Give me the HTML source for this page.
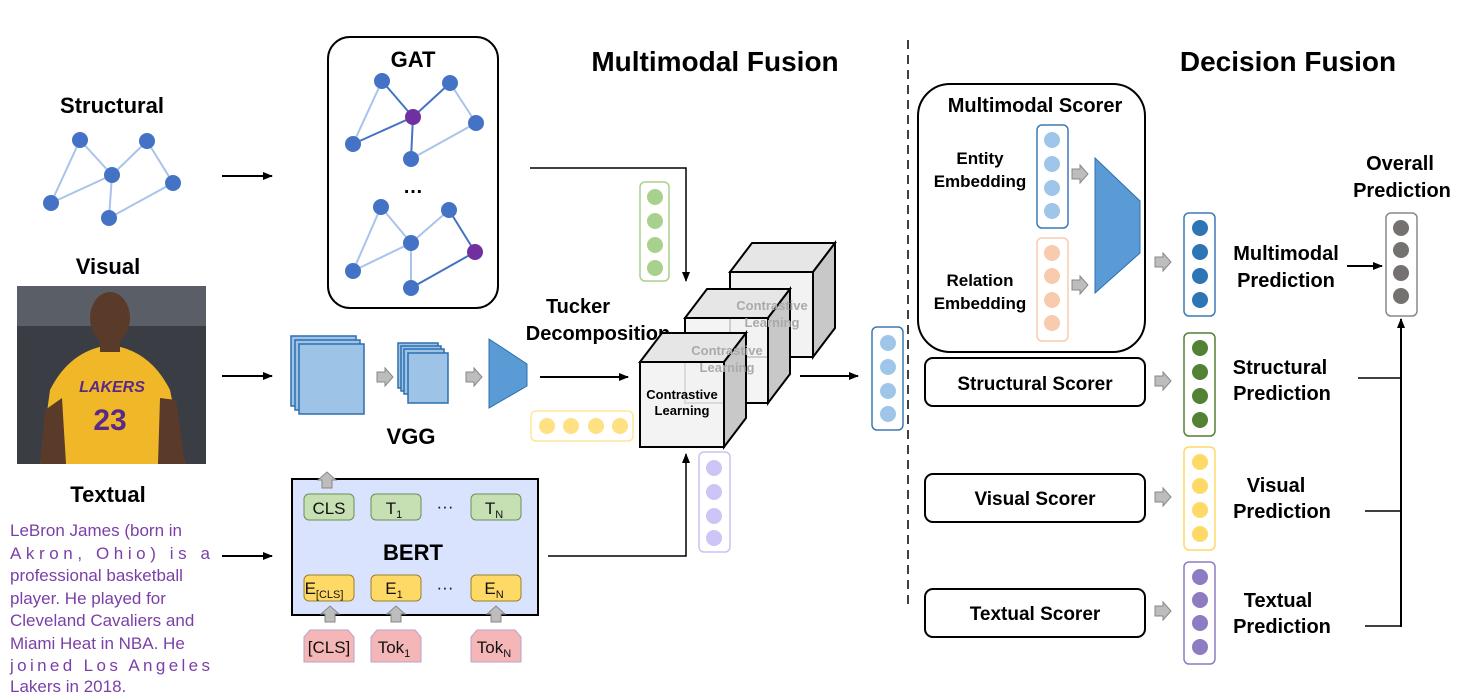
<!DOCTYPE html>
<html><head><meta charset="utf-8"><style>
html,body{margin:0;padding:0;background:#fff;}
svg{display:block;font-family:"Liberation Sans",Arial,sans-serif;}
.b{font-weight:bold;fill:#000;}
</style></head><body>
<svg width="1464" height="698" viewBox="0 0 1464 698" xmlns="http://www.w3.org/2000/svg">
<defs>
<marker id="ah" markerWidth="10" markerHeight="8" refX="9" refY="4" orient="auto" markerUnits="userSpaceOnUse"><path d="M0,0 L10,4 L0,8 z" fill="#000"/></marker>
<polygon id="ga" points="-8,-5 0,-5 0,-9 8,0 0,9 0,5 -8,5" fill="#bdbdbd" stroke="#888" stroke-width="1"/>
<polygon id="gu" points="-5,8 -5,0 -9,0 0,-8 9,0 5,0 5,8" fill="#bdbdbd" stroke="#888" stroke-width="1"/>
</defs>

<!-- Titles -->
<text x="715" y="71" font-size="28" text-anchor="middle" class="b">Multimodal Fusion</text>
<text x="1288" y="71" font-size="28" text-anchor="middle" class="b">Decision Fusion</text>

<!-- Structural -->
<text x="112" y="113" font-size="22" text-anchor="middle" class="b">Structural</text>
<g stroke="#a9c3ea" stroke-width="2">
<line x1="80" y1="140" x2="112" y2="175"/><line x1="80" y1="140" x2="51" y2="203"/>
<line x1="147" y1="141" x2="112" y2="175"/><line x1="147" y1="141" x2="173" y2="183"/>
<line x1="112" y1="175" x2="51" y2="203"/><line x1="112" y1="175" x2="109" y2="218"/>
<line x1="109" y1="218" x2="173" y2="183"/></g>
<g fill="#4472c4"><circle cx="80" cy="140" r="8"/><circle cx="147" cy="141" r="8"/><circle cx="112" cy="175" r="8"/><circle cx="51" cy="203" r="8"/><circle cx="173" cy="183" r="8"/><circle cx="109" cy="218" r="8"/></g>
<line x1="222" y1="176" x2="272" y2="176" stroke="#000" stroke-width="2" marker-end="url(#ah)"/>

<!-- GAT -->
<rect x="328" y="37" width="170" height="271" rx="22" fill="none" stroke="#000" stroke-width="2"/>
<text x="413" y="67" font-size="22" text-anchor="middle" class="b">GAT</text>
<g stroke="#a9c3ea" stroke-width="2">
<line x1="382" y1="81" x2="353" y2="144"/><line x1="450" y1="83" x2="476" y2="123"/><line x1="411" y1="159" x2="476" y2="123"/>
<line x1="381" y1="207" x2="411" y2="243"/><line x1="449" y1="210" x2="411" y2="243"/><line x1="381" y1="207" x2="353" y2="271"/>
<line x1="411" y1="243" x2="353" y2="271"/><line x1="411" y1="243" x2="411" y2="288"/></g>
<g stroke="#4472c4" stroke-width="2">
<line x1="382" y1="81" x2="413" y2="117"/><line x1="450" y1="83" x2="413" y2="117"/><line x1="353" y1="144" x2="413" y2="117"/><line x1="413" y1="117" x2="411" y2="159"/>
<line x1="449" y1="210" x2="475" y2="252"/><line x1="475" y1="252" x2="411" y2="288"/></g>
<g fill="#4472c4"><circle cx="382" cy="81" r="8"/><circle cx="450" cy="83" r="8"/><circle cx="353" cy="144" r="8"/><circle cx="476" cy="123" r="8"/><circle cx="411" cy="159" r="8"/>
<circle cx="381" cy="207" r="8"/><circle cx="449" cy="210" r="8"/><circle cx="411" cy="243" r="8"/><circle cx="353" cy="271" r="8"/><circle cx="411" cy="288" r="8"/></g>
<circle cx="413" cy="117" r="8" fill="#7030a0"/><circle cx="475" cy="252" r="8" fill="#7030a0"/>
<text x="413" y="193" font-size="20" text-anchor="middle" class="b">…</text>
<polyline points="530,168 686,168 686,281" fill="none" stroke="#000" stroke-width="1.5" marker-end="url(#ah)"/>

<!-- Visual -->
<text x="108" y="274" font-size="22" text-anchor="middle" class="b">Visual</text>
<rect x="17" y="286" width="189" height="178" fill="#3b3d44"/>
<rect x="17" y="286" width="189" height="40" fill="#5a5e66"/>
<path d="M40,464 L50,390 Q70,350 110,345 Q150,350 170,390 L185,464 z" fill="#f0b828"/>
<path d="M40,464 L45,410 L62,398 L66,464 z M185,464 L176,400 L160,398 L158,464z" fill="#5a3a28"/>
<ellipse cx="110" cy="318" rx="20" ry="26" fill="#5a3a28"/>
<rect x="100" y="338" width="20" height="14" fill="#5a3a28"/>
<text x="112" y="392" font-size="16" font-weight="bold" fill="#5b2a86" text-anchor="middle" font-style="italic">LAKERS</text>
<text x="110" y="430" font-size="30" font-weight="bold" fill="#5b2a86" text-anchor="middle">23</text>
<line x1="222" y1="376" x2="272" y2="376" stroke="#000" stroke-width="2" marker-end="url(#ah)"/>

<!-- VGG -->
<g stroke="#2e6fae" stroke-width="1.5" fill="#9dc3e6">
<rect x="291" y="336" width="65" height="70"/><rect x="295" y="340" width="65" height="70"/><rect x="299" y="344" width="65" height="70"/>
<rect x="398" y="343" width="40" height="45"/><rect x="401" y="346" width="40" height="45"/><rect x="404" y="349" width="40" height="45"/><rect x="408" y="353" width="40" height="50"/></g>
<use href="#ga" x="385" y="377"/><use href="#ga" x="474" y="377"/>
<polygon points="489,339 527,364 527,386 489,408" fill="#5b9bd5" stroke="#2e6fae" stroke-width="1"/>
<text x="411" y="444" font-size="22" text-anchor="middle" class="b">VGG</text>
<line x1="540" y1="377" x2="628" y2="377" stroke="#000" stroke-width="2" marker-end="url(#ah)"/>
<text x="578" y="313" font-size="20" text-anchor="middle" class="b">Tucker</text>
<text x="598" y="340" font-size="20" text-anchor="middle" class="b">Decomposition</text>

<!-- Cubes -->
<g stroke="#000" stroke-width="2">
<polygon points="730,272 813,272 835,243 752,243" fill="#e6e6e6"/>
<polygon points="813,272 835,243 835,328 813,357" fill="#c8c8c8"/>
<rect x="730" y="272" width="83" height="85" fill="#f2f2f2"/>
<polygon points="685,318 768,318 790,289 707,289" fill="#e6e6e6"/>
<polygon points="768,318 790,289 790,374 768,403" fill="#c8c8c8"/>
<rect x="685" y="318" width="83" height="85" fill="#f2f2f2" fill-opacity="0.85"/>
<polygon points="640,362 724,362 746,333 662,333" fill="#e6e6e6"/>
<polygon points="724,362 746,333 746,418 724,447" fill="#c8c8c8"/>
<rect x="640" y="362" width="84" height="85" fill="#f2f2f2" fill-opacity="0.9"/></g>
<g font-size="13" font-weight="bold" fill="#aaa" text-anchor="middle">
<text x="772" y="310">Contrastive</text><text x="772" y="327">Learning</text>
<text x="727" y="355">Contrastive</text><text x="727" y="372">Learning</text></g>
<g font-size="13" font-weight="bold" fill="#000" text-anchor="middle">
<text x="682" y="399">Contrastive</text><text x="682" y="415">Learning</text></g>
<line x1="800" y1="376" x2="858" y2="376" stroke="#000" stroke-width="2" marker-end="url(#ah)"/>

<!-- Vectors -->
<rect x="640" y="182" width="29" height="99" rx="5" fill="#fff" stroke="#a9d18e" stroke-width="1.5"/>
<g fill="#a9d18e"><circle cx="655" cy="197" r="8"/><circle cx="655" cy="221" r="8"/><circle cx="655" cy="245" r="8"/><circle cx="655" cy="268" r="8"/></g>
<rect x="531" y="411" width="102" height="30" rx="5" fill="#fff" stroke="#ffe699" stroke-width="1.5"/>
<g fill="#ffe082"><circle cx="547" cy="426" r="8"/><circle cx="571" cy="426" r="8"/><circle cx="596" cy="426" r="8"/><circle cx="620" cy="426" r="8"/></g>
<rect x="699" y="452" width="31" height="100" rx="5" fill="#fff" stroke="#c9c2f5" stroke-width="1.5"/>
<g fill="#cdc5f7"><circle cx="714" cy="468" r="8"/><circle cx="714" cy="492" r="8"/><circle cx="714" cy="516" r="8"/><circle cx="714" cy="538" r="8"/></g>
<rect x="872" y="327" width="31" height="103" rx="5" fill="#fff" stroke="#3d78b5" stroke-width="1.5"/>
<g fill="#9fc5e8"><circle cx="888" cy="343" r="8"/><circle cx="888" cy="367" r="8"/><circle cx="888" cy="391" r="8"/><circle cx="888" cy="414" r="8"/></g>

<!-- Textual -->
<text x="108" y="502" font-size="22" text-anchor="middle" class="b">Textual</text>
<g font-size="17" fill="#7b3fa8">
<text x="10" y="536">LeBron James (born in</text>
<text x="10" y="559" textLength="200" lengthAdjust="spacing">Akron, Ohio) is a</text>
<text x="10" y="581">professional basketball</text>
<text x="10" y="604">player. He played for</text>
<text x="10" y="626">Cleveland Cavaliers and</text>
<text x="10" y="649">Miami Heat in NBA. He</text>
<text x="10" y="671" textLength="200" lengthAdjust="spacing">joined Los Angeles</text>
<text x="10" y="692">Lakers in 2018.</text></g>
<line x1="222" y1="556" x2="272" y2="556" stroke="#000" stroke-width="2" marker-end="url(#ah)"/>

<!-- BERT -->
<rect x="292" y="479" width="246" height="136" fill="#dae3fd" stroke="#000" stroke-width="2"/>
<use href="#gu" x="327" y="480"/>
<g fill="#c6e0b4" stroke="#6a8f57" stroke-width="1"><rect x="304" y="494" width="50" height="26" rx="5"/><rect x="371" y="494" width="50" height="26" rx="5"/><rect x="471" y="494" width="50" height="26" rx="5"/></g>
<g fill="#ffd966" stroke="#9a8030" stroke-width="1"><rect x="304" y="575" width="50" height="26" rx="5"/><rect x="371" y="575" width="50" height="26" rx="5"/><rect x="471" y="575" width="50" height="26" rx="5"/></g>
<g font-size="17" fill="#111" text-anchor="middle">
<text x="329" y="514">CLS</text><text x="394" y="514">T<tspan font-size="11" dy="4">1</tspan></text><text x="494" y="514">T<tspan font-size="11" dy="4">N</tspan></text>
<text x="445" y="512">···</text><text x="445" y="593">···</text>
<text x="324" y="594">E<tspan font-size="11" dy="4">[CLS]</tspan></text><text x="394" y="594">E<tspan font-size="11" dy="4">1</tspan></text><text x="494" y="594">E<tspan font-size="11" dy="4">N</tspan></text>
</g>
<text x="413" y="560" font-size="22" text-anchor="middle" class="b">BERT</text>
<use href="#gu" x="330" y="614"/><use href="#gu" x="396" y="614"/><use href="#gu" x="496" y="614"/>
<g fill="#f4b6b6" stroke="#b9a3c9" stroke-width="1">
<polygon points="304,637 310,630 348,630 354,637 354,662 304,662"/>
<polygon points="371,637 377,630 415,630 421,637 421,662 371,662"/>
<polygon points="471,637 477,630 515,630 521,637 521,662 471,662"/></g>
<g font-size="17" fill="#111" text-anchor="middle">
<text x="329" y="653">[CLS]</text><text x="394" y="653">Tok<tspan font-size="11" dy="4">1</tspan></text><text x="494" y="653">Tok<tspan font-size="11" dy="4">N</tspan></text></g>
<polyline points="548,556 686,556 686,454" fill="none" stroke="#000" stroke-width="1.5" marker-end="url(#ah)"/>

<!-- Dashed divider -->
<line x1="908" y1="40" x2="908" y2="605" stroke="#000" stroke-width="1.5" stroke-dasharray="9,6"/>

<!-- Multimodal Scorer -->
<rect x="918" y="84" width="227" height="268" rx="32" fill="none" stroke="#000" stroke-width="2"/>
<text x="1035" y="112" font-size="20" text-anchor="middle" class="b">Multimodal Scorer</text>
<g font-size="17" font-weight="bold" text-anchor="middle" fill="#000">
<text x="980" y="164">Entity</text><text x="980" y="187">Embedding</text>
<text x="980" y="286">Relation</text><text x="980" y="309">Embedding</text></g>
<rect x="1037" y="125" width="31" height="103" rx="5" fill="#fff" stroke="#3d78b5" stroke-width="1.5"/>
<g fill="#9fc5e8"><circle cx="1052" cy="140" r="8"/><circle cx="1052" cy="164" r="8"/><circle cx="1052" cy="188" r="8"/><circle cx="1052" cy="211" r="8"/></g>
<rect x="1037" y="238" width="31" height="103" rx="5" fill="#fff" stroke="#f8cbad" stroke-width="1.5"/>
<g fill="#f8cbad"><circle cx="1052" cy="253" r="8"/><circle cx="1052" cy="276" r="8"/><circle cx="1052" cy="300" r="8"/><circle cx="1052" cy="323" r="8"/></g>
<use href="#ga" x="1080" y="174"/><use href="#ga" x="1080" y="285"/>
<polygon points="1095,158 1140,201 1140,253 1095,293" fill="#5b9bd5" stroke="#2e6fae" stroke-width="1"/>

<!-- Scorers -->
<g fill="#fff" stroke="#000" stroke-width="2">
<rect x="925" y="358" width="220" height="48" rx="8"/><rect x="925" y="474" width="220" height="48" rx="8"/><rect x="925" y="589" width="220" height="48" rx="8"/></g>
<g font-size="19" text-anchor="middle" class="b">
<text x="1035" y="390">Structural Scorer</text><text x="1035" y="505">Visual Scorer</text><text x="1035" y="620">Textual Scorer</text></g>
<use href="#ga" x="1163" y="262"/><use href="#ga" x="1163" y="381"/><use href="#ga" x="1163" y="497"/><use href="#ga" x="1163" y="611"/>

<!-- Prediction vectors -->
<rect x="1184" y="213" width="31" height="103" rx="5" fill="#fff" stroke="#3d78b5" stroke-width="1.5"/>
<g fill="#2e75b6"><circle cx="1200" cy="228" r="8"/><circle cx="1200" cy="252" r="8"/><circle cx="1200" cy="276" r="8"/><circle cx="1200" cy="300" r="8"/></g>
<rect x="1184" y="333" width="31" height="103" rx="5" fill="#fff" stroke="#538135" stroke-width="1.5"/>
<g fill="#538135"><circle cx="1200" cy="348" r="8"/><circle cx="1200" cy="372" r="8"/><circle cx="1200" cy="396" r="8"/><circle cx="1200" cy="420" r="8"/></g>
<rect x="1184" y="447" width="31" height="103" rx="5" fill="#fff" stroke="#ffd966" stroke-width="1.5"/>
<g fill="#ffd966"><circle cx="1200" cy="462" r="8"/><circle cx="1200" cy="486" r="8"/><circle cx="1200" cy="510" r="8"/><circle cx="1200" cy="534" r="8"/></g>
<rect x="1184" y="562" width="31" height="102" rx="5" fill="#fff" stroke="#8e7cc3" stroke-width="1.5"/>
<g fill="#8e7cc3"><circle cx="1200" cy="577" r="8"/><circle cx="1200" cy="600" r="8"/><circle cx="1200" cy="623" r="8"/><circle cx="1200" cy="647" r="8"/></g>

<g font-size="20" text-anchor="middle" class="b">
<text x="1286" y="260">Multimodal</text><text x="1286" y="287">Prediction</text>
<text x="1280" y="374">Structural</text><text x="1282" y="400">Prediction</text>
<text x="1276" y="492">Visual</text><text x="1282" y="518">Prediction</text>
<text x="1278" y="607">Textual</text><text x="1282" y="633">Prediction</text>
<text x="1400" y="170">Overall</text><text x="1402" y="197">Prediction</text></g>
<line x1="1347" y1="266" x2="1382" y2="266" stroke="#000" stroke-width="2" marker-end="url(#ah)"/>
<rect x="1386" y="213" width="31" height="103" rx="5" fill="#fff" stroke="#888" stroke-width="1.5"/>
<g fill="#757171"><circle cx="1401" cy="228" r="8"/><circle cx="1401" cy="250" r="8"/><circle cx="1401" cy="273" r="8"/><circle cx="1401" cy="296" r="8"/></g>
<line x1="1401" y1="627" x2="1401" y2="319" stroke="#000" stroke-width="2" marker-end="url(#ah)"/>
<g stroke="#000" stroke-width="1.5">
<line x1="1358" y1="378" x2="1401" y2="378"/><line x1="1365" y1="511" x2="1401" y2="511"/><line x1="1365" y1="626" x2="1401" y2="626"/></g>
</svg>
</body></html>
